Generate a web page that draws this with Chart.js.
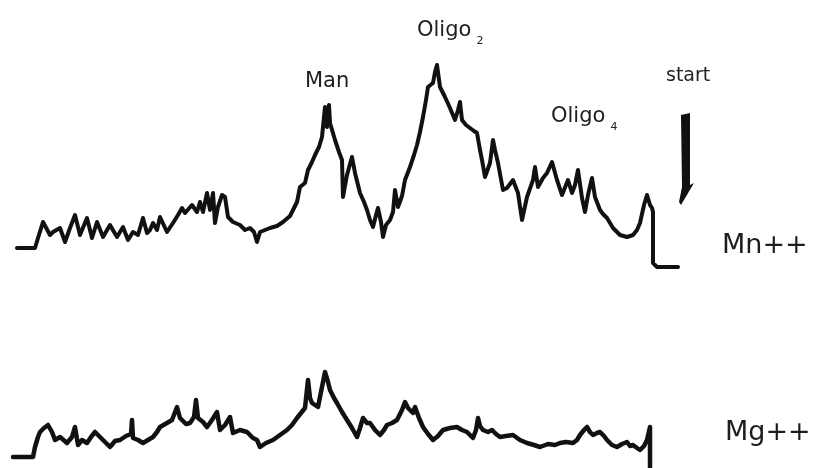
<!DOCTYPE html>
<html>
<head>
<meta charset="utf-8">
<script src="https://cdn.jsdelivr.net/npm/chart.js@4/dist/chart.umd.min.js"></script>
<style>
html,body{margin:0;padding:0;background:#fff;}
#wrap{position:relative;width:814px;height:468px;}
</style>
</head>
<body>
<div id="wrap"><canvas id="c" width="814" height="468"></canvas></div>
<script>
// Mn++ trace (elution position, signal above Mn baseline)
const mnTime = [17,35,38,43,50,53,60,65,70,75,
80,87,92,97,103,110,117,123,128,133,
138,143,147,150,153,157,160,167,173,178,
182,185,192,197,200,203,207,210,213,215,
218,222,225,228,233,240,245,250,254,257,
260,265,270,277,283,290,293,297,300,305,
308,312,315,319,322,325,327,329,330,335,
339,342,343,347,350,352,355,360,364,367,
370,373,376,378,381,383,386,390,393,395,
398,402,405,410,414,417,420,423,426,428,
433,435,437,440,445,450,455,458,460,462,
466,470,474,477,480,482,485,490,493,495,
498,503,507,513,518,522,527,533,535,538,
543,547,552,557,562,568,572,575,578,582,
585,588,592,595,600,603,607,613,620,627,
633,637,640,644,647,650,652,653,653,657,
678];
const mnSignal = [0,0,10,26,13,16,20,6,20,33,
13,30,10,26,11,23,11,21,8,16,
13,30,15,18,25,18,31,16,25,33,
40,35,43,36,46,36,55,38,55,25,
41,53,51,31,26,23,18,20,16,6,
16,18,20,22,26,32,38,46,61,65,
78,86,93,101,111,141,121,143,125,108,
96,88,51,73,84,91,75,55,46,38,
28,21,33,40,26,11,23,28,36,58,
41,52,68,81,93,103,116,131,148,161,
165,176,183,161,151,140,128,138,146,128,
123,120,117,115,98,88,71,85,108,98,
85,58,60,68,55,28,51,68,81,61,
70,75,86,68,53,68,55,63,78,50,
36,53,70,51,38,34,30,20,13,11,
13,18,25,43,53,43,40,36,-15,-19,
-19];

// Mg++ trace (elution position, signal above Mg baseline)
const mgTime = [13,33,35,38,40,44,48,52,55,60,
67,72,75,78,82,87,91,95,100,105,
110,115,120,126,131,132,133,138,143,148,
153,157,160,167,172,177,180,182,186,190,
194,196,198,203,207,212,217,220,225,230,
233,240,247,253,257,260,266,273,280,287,
292,297,301,305,308,310,312,318,321,325,
328,330,334,337,342,347,352,357,360,363,
367,370,375,380,384,387,392,397,402,405,
408,410,413,415,419,423,428,433,438,443,
450,457,462,467,473,476,478,480,483,488,
492,496,500,506,513,520,527,534,540,548,
555,560,566,573,577,580,584,587,590,593,
597,600,604,607,612,617,622,627,630,633,
637,640,644,647,650,650];
const mgSignal = [0,0,10,20,25,29,32,25,17,20,
14,20,30,12,17,14,20,25,20,15,
10,16,17,21,23,37,19,17,14,17,
20,25,30,34,37,50,39,37,33,34,
40,57,39,35,30,37,45,27,32,40,
24,27,25,19,17,10,14,17,22,27,
32,39,44,49,77,59,54,50,65,85,
75,67,59,54,45,37,29,20,29,39,
34,34,27,22,27,32,34,37,47,55,
49,47,44,50,39,30,23,17,21,27,
29,30,27,25,19,27,39,31,27,25,
27,23,20,21,22,17,14,12,10,13,
12,14,15,14,17,22,27,30,25,22,
24,25,21,17,12,10,13,15,11,12,
9,7,11,17,30,-10];

// text labels
const seriesNames = ['Mn++', 'Mg++'];
const peakNames = ['Man', 'Oligo', 'Oligo'];
const peakSubscripts = ['', '2', '4'];
const startLabel = 'start';

const toPts = (xs, ys) => xs.map((x, i) => ({x: x, y: ys[i]}));

const annotations = {
  peaks: [
    {x: 305, y: 161},
    {x: 417, y: 212},
    {x: 551, y: 126}
  ],
  start: {x: 666, y: 167},
  arrow: {x: 681, top: 135, tip: 43},
  series: [{x: 722, y: -5, axis: 'yMn'}, {x: 725, y: 17, axis: 'yMg'}]
};

const labelPlugin = {
  id: 'labels',
  afterDatasetsDraw(chart) {
    const ctx = chart.ctx;
    const xs = chart.scales.x, ym = chart.scales.yMn;
    ctx.save();
    ctx.fillStyle = '#1e1e1e';
    ctx.textBaseline = 'alphabetic';
    ctx.textAlign = 'left';
    annotations.peaks.forEach((p, i) => {
      const px = xs.getPixelForValue(p.x), py = ym.getPixelForValue(p.y);
      ctx.font = '21px "DejaVu Sans"';
      ctx.fillText(peakNames[i], px, py);
      if (peakSubscripts[i]) {
        const w = ctx.measureText(peakNames[i]).width;
        ctx.font = '11px "DejaVu Sans"';
        ctx.fillText(peakSubscripts[i], px + w + 5, py + 8);
      }
    });
    ctx.font = '19px "DejaVu Sans"';
    ctx.fillText(startLabel, xs.getPixelForValue(annotations.start.x), ym.getPixelForValue(annotations.start.y));
    annotations.series.forEach((s, i) => {
      ctx.font = '27px "DejaVu Sans"';
      ctx.fillText(seriesNames[i], xs.getPixelForValue(s.x), chart.scales[s.axis].getPixelForValue(s.y));
    });
    // start arrow
    const a = annotations.arrow;
    const ax = xs.getPixelForValue(a.x);
    const at = ym.getPixelForValue(a.top);
    const ab = ym.getPixelForValue(a.tip);
    ctx.fillStyle = '#111';
    ctx.beginPath();
    ctx.moveTo(ax, at + 2);
    ctx.lineTo(ax + 9, at);
    ctx.lineTo(ax + 9, ab - 20);
    ctx.lineTo(ax + 13, ab - 22);
    ctx.lineTo(ax, ab);
    ctx.lineTo(ax - 2, ab - 3);
    ctx.lineTo(ax + 1, ab - 18);
    ctx.closePath();
    ctx.fill();
    ctx.restore();
  }
};

new Chart(document.getElementById('c'), {
  type: 'line',
  data: {
    datasets: [
      {label: seriesNames[0], data: toPts(mnTime, mnSignal), yAxisID: 'yMn',
       borderColor: '#111', borderWidth: 4, pointRadius: 0, tension: 0, fill: false,
       borderJoinStyle: 'round', borderCapStyle: 'round'},
      {label: seriesNames[1], data: toPts(mgTime, mgSignal), yAxisID: 'yMg',
       borderColor: '#111', borderWidth: 4.5, pointRadius: 0, tension: 0, fill: false,
       borderJoinStyle: 'round', borderCapStyle: 'round'}
    ]
  },
  options: {
    responsive: false,
    animation: false,
    layout: {padding: 0},
    plugins: {legend: {display: false}, tooltip: {enabled: false}},
    scales: {
      x: {type: 'linear', min: 0, max: 814, display: false},
      yMn: {type: 'linear', min: -220, max: 248, display: false},
      yMg: {type: 'linear', min: -11, max: 457, display: false}
    }
  },
  plugins: [labelPlugin]
});
</script>
</body>
</html>
